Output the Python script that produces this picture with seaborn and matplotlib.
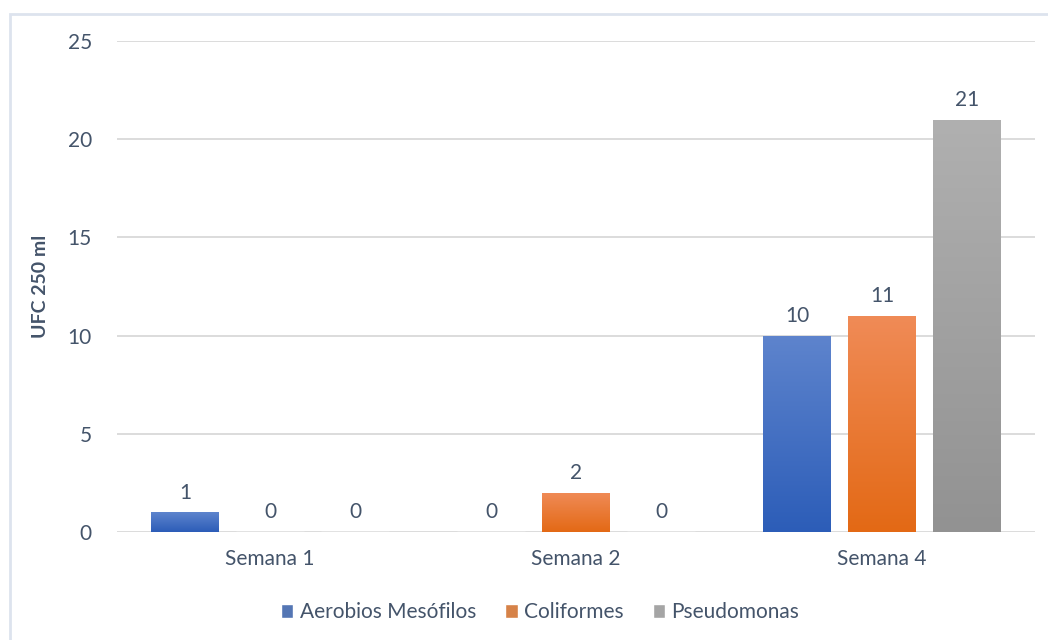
import numpy as np
import matplotlib.pyplot as plt
import matplotlib.colors as mcolors
import pandas as pd
import seaborn as sns
from matplotlib.patches import Rectangle

#%% Data

semanas = ["Semana 1", "Semana 2", "Semana 4"]
grupos = ["Aerobios Mesófilos", "Coliformes", "Pseudomonas"]
aerobios = [1, 0, 10]
coliformes = [0, 2, 11]
pseudomonas = [0, 0, 21]

colores = ["#4472C4", "#ED7D31", "#A5A5A5"]
# top / bottom colours of the gradient fill
grad = {"Aerobios Mesófilos": ("#5E84CD", "#2C5DB8"),
        "Coliformes": ("#F08B57", "#E36915"),
        "Pseudomonas": ("#B0B0B0", "#929292")}

data = pd.DataFrame({
    "semana": semanas * 3,
    "grupo": [g for g in grupos for _ in semanas],
    "ufc": aerobios + coliformes + pseudomonas,
})

#%% Plot

sns.set_style("white")
plt.rcParams["font.family"] = ["Lato", "DejaVu Sans"]
txt = "#44546A"
fs = 15

fig = plt.figure(figsize=(10.48, 6.4), dpi=100)
ax = fig.add_axes([117 / 1048, 1 - 532 / 640, 918 / 1048, 491 / 640])

sns.barplot(data=data, x="semana", y="ufc", hue="grupo", order=semanas,
            hue_order=grupos, palette=colores, width=0.833, gap=0.2,
            ax=ax, legend=True, zorder=3)

ax.set_ylim(0, 25)
ax.set_xlim(-0.5, 2.5)
ax.set_yticks([0, 5, 10, 15, 20, 25])
ax.yaxis.grid(True, color="#D9D9D9", lw=1.3, zorder=0)
ax.set_axisbelow(True)
sns.despine(ax=ax, left=True, bottom=True)
ax.tick_params(axis="both", length=0, labelsize=fs, labelcolor=txt)
ax.tick_params(axis="y", pad=18)
ax.tick_params(axis="x", pad=12)
ax.set_xlabel("")
ax.set_ylabel("UFC 250 ml", fontsize=14, fontweight="bold", color=txt)
ax.yaxis.set_label_coords(-0.074, 0.5)

# gradient fill clipped to each bar
for cont, g in zip(ax.containers, grupos):
    top, bot = grad[g]
    cmap = mcolors.LinearSegmentedColormap.from_list(g, [bot, top])
    for bar in cont:
        h = bar.get_height()
        if h <= 0:
            continue
        x0 = bar.get_x()
        w = bar.get_width()
        im = ax.imshow(np.linspace(0, 1, 256).reshape(-1, 1), cmap=cmap,
                       origin="lower", aspect="auto",
                       extent=[x0, x0 + w, 0, h], zorder=3.5)
        im.set_clip_path(bar)
        bar.set_edgecolor("none")
    ax.bar_label(cont, fontsize=fs, color=txt, padding=7)
ax.set_xlim(-0.5, 2.5)
ax.set_ylim(0, 25)

leg = ax.legend(loc="upper center", bbox_to_anchor=(0.461, -0.105), ncol=3,
                frameon=False, fontsize=fs, handlelength=0.6,
                handleheight=0.6, handletextpad=0.3, columnspacing=1.4,
                labelcolor=txt)

# light frame round the chart
fig.patches.append(Rectangle((10 / 1048, -0.1), 1.2, 1 - 14 / 640 + 0.1,
                             transform=fig.transFigure, fill=False,
                             edgecolor="#DDE3EE", lw=2))

plt.savefig("out.png", dpi=100)
